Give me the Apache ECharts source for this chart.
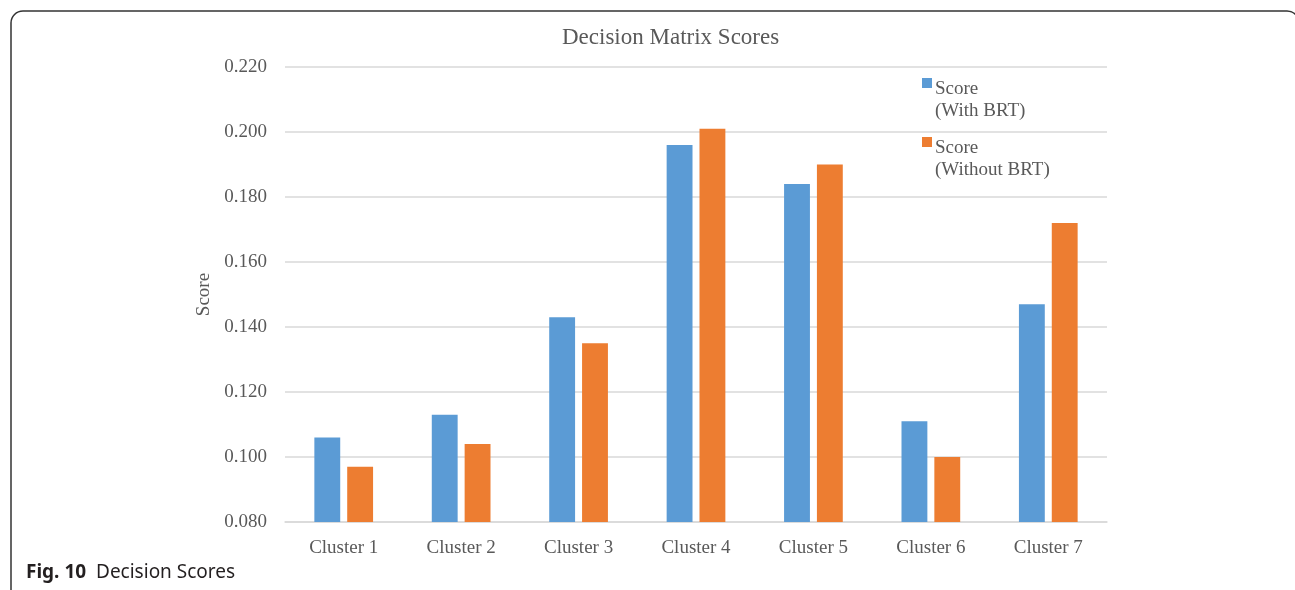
<!DOCTYPE html>
<html>
<head>
<meta charset="utf-8">
<script src="https://cdn.jsdelivr.net/npm/echarts@6/dist/echarts.min.js"></script>
<style>
  html, body { margin: 0; padding: 0; background: #fff; }
  #chart { width: 1295px; height: 590px; }
</style>
</head>
<body>
<div id="chart"></div>
<script>
var categories = ['Cluster 1', 'Cluster 2', 'Cluster 3', 'Cluster 4', 'Cluster 5', 'Cluster 6', 'Cluster 7'];
var withBRT = [0.106, 0.113, 0.143, 0.196, 0.184, 0.111, 0.147];
var withoutBRT = [0.097, 0.104, 0.135, 0.201, 0.190, 0.100, 0.172];
var yTicks = { min: 0.08, max: 0.22, step: 0.02 };

var serif = '"Liberation Serif", "DejaVu Serif", serif';
var textGray = '#595959';
// square icon sitting on the first line of a two-line legend label
var legendIcon = 'path://M0,0h10v10h-10z M0,43.9h0.1v0.1h-0.1z';

var myChart = echarts.init(document.getElementById('chart'));
var option = {
    backgroundColor: '#fff',
    animation: false,
    title: {
        text: 'Decision Matrix Scores',
        left: 557,
        top: 21,
        textStyle: {
            color: textGray,
            fontFamily: serif,
            fontSize: 23,
            fontWeight: 'normal'
        }
    },
    legend: {
        orient: 'vertical',
        left: 917,
        top: 73,
        itemWidth: 10,
        itemHeight: 44,
        itemGap: 15,
        icon: legendIcon,
        formatter: function (name) {
            return name.replace(' (', '\n(');
        },
        textStyle: {
            color: textGray,
            fontFamily: serif,
            fontSize: 19,
            lineHeight: 22,
            padding: [0, 0, 0, -2]
        },
        data: ['Score (With BRT)', 'Score (Without BRT)']
    },
    grid: {
        left: 285,
        right: 188,
        top: 67,
        bottom: 68
    },
    xAxis: {
        type: 'category',
        data: categories,
        axisLine: { lineStyle: { color: '#d9d9d9', width: 1.5 } },
        axisTick: { show: false },
        axisLabel: {
            color: textGray,
            fontFamily: serif,
            fontSize: 19,
            margin: 17
        }
    },
    yAxis: {
        type: 'value',
        min: yTicks.min,
        max: yTicks.max,
        interval: yTicks.step,
        name: 'Score',
        nameLocation: 'middle',
        nameGap: 71,
        nameTextStyle: {
            color: textGray,
            fontFamily: serif,
            fontSize: 19
        },
        axisLine: { show: false },
        axisTick: { show: false },
        axisLabel: {
            color: textGray,
            fontFamily: serif,
            fontSize: 19,
            margin: 18,
            formatter: function (v) { return v.toFixed(3); }
        },
        splitLine: { lineStyle: { color: '#d9d9d9', width: 1.5 } }
    },
    series: [
        {
            name: 'Score (With BRT)',
            type: 'bar',
            data: withBRT,
            barGap: '27%',
            barCategoryGap: '50%',
            itemStyle: { color: '#5B9BD5' }
        },
        {
            name: 'Score (Without BRT)',
            type: 'bar',
            data: withoutBRT,
            itemStyle: { color: '#ED7D31' }
        }
    ],
    graphic: [
        {
            type: 'rect',
            silent: true,
            shape: { x: 11, y: 11, width: 1288, height: 640, r: 12 },
            style: { fill: 'none', stroke: '#333', lineWidth: 1.5 }
        },
        {
            type: 'text',
            left: 26,
            top: 563,
            style: {
                text: '{b|Fig. 10}  Decision Scores',
                fill: '#231f20',
                font: '19px "Noto Sans", "Open Sans", sans-serif',
                rich: {
                    b: {
                        fontWeight: 'bold',
                        fontSize: 19,
                        fontFamily: '"Noto Sans", "Open Sans", sans-serif',
                        fill: '#231f20'
                    }
                }
            }
        }
    ]
};
myChart.setOption(option);
</script>
</body>
</html>
